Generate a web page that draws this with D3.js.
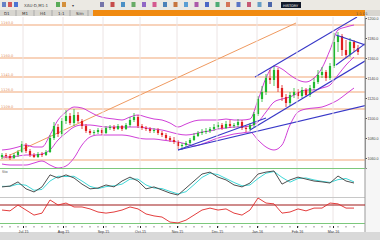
<!DOCTYPE html>
<html><head><meta charset="utf-8">
<script src="https://cdn.jsdelivr.net/npm/d3@7/dist/d3.min.js"></script>
<style>body{margin:0;background:#fff}svg{display:block;font-family:"DejaVu Sans",sans-serif}</style>
</head><body><svg id="c" width="380" height="240"></svg>
<script>
// ---- data ----
const openP  = [1061,1063,1062,1060,1063,1066,1073,1067,1063,1061,1064,1063,1066,1080,1091,1084,1097,1102,1095,1103,1097,1092,1087,1085,1086,1088,1085,1090,1091,1089,1092,1089,1093,1098,1101,1092,1090,1089,1087,1088,1085,1083,1080,1078,1076,1072,1073,1075,1078,1082,1085,1086,1087,1089,1091,1093,1090,1094,1092,1093,1096,1090,1089,1093,1104,1119,1126,1140,1138,1148,1130,1121,1115,1123,1126,1122,1128,1123,1130,1136,1143,1146,1140,1152,1176,1182,1168,1163,1176,1170];
const closeP = [1063,1062,1060,1063,1066,1074,1067,1063,1061,1064,1063,1066,1080,1092,1084,1097,1102,1095,1103,1097,1092,1087,1085,1086,1088,1085,1090,1091,1089,1092,1089,1093,1098,1101,1092,1090,1089,1087,1088,1085,1083,1080,1078,1076,1072,1073,1075,1078,1082,1085,1086,1087,1089,1091,1093,1090,1094,1092,1093,1096,1090,1089,1093,1104,1119,1126,1140,1138,1148,1130,1121,1115,1123,1126,1122,1128,1123,1130,1136,1143,1146,1140,1152,1176,1182,1168,1163,1176,1170,1166];
const highP  = [1065,1065,1064,1065,1068,1077,1075,1069,1065,1066,1066,1068,1083,1096,1094,1100,1108,1105,1109,1106,1099,1094,1089,1088,1090,1090,1092,1093,1093,1094,1093,1095,1101,1105,1103,1094,1092,1091,1090,1090,1087,1085,1082,1081,1078,1075,1077,1080,1085,1087,1089,1090,1091,1094,1096,1095,1097,1098,1095,1099,1098,1092,1095,1106,1122,1132,1144,1148,1152,1150,1133,1124,1126,1130,1129,1131,1130,1133,1140,1148,1151,1148,1155,1185,1186,1184,1178,1180,1178,1173];
const lowP   = [1059,1060,1058,1059,1061,1065,1065,1061,1060,1060,1061,1062,1065,1078,1081,1082,1094,1093,1092,1095,1089,1085,1083,1083,1084,1083,1084,1088,1087,1088,1087,1088,1091,1096,1090,1088,1087,1085,1085,1083,1081,1078,1076,1074,1069,1068,1071,1073,1077,1081,1083,1084,1085,1087,1089,1088,1089,1090,1090,1091,1088,1086,1087,1091,1102,1116,1123,1134,1132,1126,1117,1111,1112,1120,1119,1120,1121,1121,1128,1134,1140,1137,1138,1150,1166,1162,1160,1161,1166,1163];
// Bollinger bands, sampled every second bar
const bandIdx = [0,2,4,6,8,10,12,14,16,18,20,22,24,26,28,30,32,34,36,38,40,42,44,46,48,50,52,54,56,58,60,62,64,66,68,70,72,74,76,78,80,82,84,86,88];
const bbUpper = [1068,1069,1071,1073,1071,1071,1083,1098,1106,1111,1110,1106,1102,1100,1099,1098,1101,1103,1101,1099,1098,1095,1091,1094,1097,1098,1098,1098,1099,1098,1098,1099,1118,1140,1152,1149,1143,1138,1136,1140,1150,1168,1188,1191,1193];
const bbMid   = [1061,1061,1062,1063,1063,1064,1068,1078,1085,1091,1093,1093,1092,1091,1091,1091,1091,1091,1090,1089,1088,1086,1084,1083,1084,1086,1087,1089,1090,1091,1091,1092,1096,1106,1116,1119,1121,1125,1128,1128,1130,1133,1143,1153,1161];
const bbLower = [1054,1053,1053,1053,1055,1057,1053,1050,1052,1060,1073,1081,1083,1083,1083,1083,1082,1080,1079,1079,1078,1077,1076,1074,1072,1074,1077,1080,1082,1084,1085,1086,1078,1071,1068,1073,1093,1106,1109,1110,1111,1114,1118,1124,1130];
// oscillators
const stoK   = [36,39,54,29,18,36,79,68,79,68,46,29,32,43,36,57,71,57,29,36,25,14,7,32,57,82,89,71,61,43,36,50,82,89,93,46,61,71,64,57,54,50,75,57,50];
const stoD   = [38,38,46,42,24,27,57,74,73,74,57,38,30,37,40,46,64,64,43,32,30,20,11,19,44,70,85,80,66,52,40,43,66,85,91,70,53,66,68,61,56,52,62,66,54];
const rsi    = [57,54,75,57,39,46,93,75,82,68,68,61,50,46,50,57,68,61,43,36,32,14,11,21,39,57,64,57,61,46,39,57,100,82,79,46,50,61,54,64,64,82,79,64,64];
const rsiLevel = 75;
// support / resistance levels and trend lines [i0, p0, i1, p1]
const hLevels = [1193,1160,1141,1126,1109,1058];
const orangeTrend = [[2,1063,73.5,1195]];
const blueTrend = [
  [63.25,1141,88.75,1201],
  [62,1088,94.5,1166],
  [44,1068,94.5,1116],
  [44,1068,66,1100],
  [83.5,1183,94.5,1168],
  [83.5,1153,94.5,1185]
];
const priceTicks = [1060,1080,1100,1120,1140,1160,1180,1200];
const dateTickIdx = [5.25,15.25,25.25,34.5,43.75,53.75,63.75,73.75,82.75];
const dateLabels = ["Jul-15","Aug-15","Sep-15","Oct-15","Nov-15","Dec-15","Jan-16","Feb-16","Mar-16"];

// ---- drawing ----
const svg = d3.select("#c");
const W = 380, PR = 365;
const x = d3.scaleLinear().domain([-0.5, 89.5]).range([0, 360]);
const yP = d3.scaleLinear().domain([1050, 1200]).range([168, 18]);
const yO = d3.scaleLinear().domain([0, 100]).range([197, 169]);
const yR = d3.scaleLinear().domain([0, 100]).range([226, 198]);

// backgrounds
svg.append("rect").attr("width", W).attr("height", 240).attr("fill", "#fff");
svg.append("rect").attr("width", W).attr("height", 10).attr("fill", "#ebe9e3");
svg.append("rect").attr("y", 10).attr("width", W).attr("height", 6).attr("fill", "#d8d6d0");
svg.append("rect").attr("x", 93).attr("y", 10).attr("width", PR - 93).attr("height", 6).attr("fill", "#f08a10");
svg.append("rect").attr("x", PR).attr("y", 16).attr("width", W - PR).attr("height", 216).attr("fill", "#f6f6f6");
svg.append("rect").attr("y", 232).attr("width", W).attr("height", 8).attr("fill", "#d9d9d9");

// toolbar
const iconCols = ["#5070c0","#d04040","#3060d0","#40a040","#d08020","#6060a0","#c03030","#3080c0","#50a050","#8050c0","#d04080","#3070b0","#c06020","#4090d0","#a040a0","#3050c0","#30a060","#d06040","#4060c0","#c04060","#5090c0","#3050a0"];
svg.append("text").attr("x", 24).attr("y", 7).attr("font-size", 4).attr("fill", "#444").text("XAU-D,M1:1");
svg.append("text").attr("x", 72).attr("y", 7).attr("font-size", 4).attr("fill", "#444").text("▾");
iconCols.forEach((c, k) => {
  const xx = k < 3 ? 2 + k * 6 : (k < 5 ? 56 + (k - 3) * 6 : 100 + (k - 5) * 10.5);
  svg.append("rect").attr("x", xx).attr("y", 2).attr("width", 4).attr("height", 5).attr("fill", c).attr("opacity", 0.85);
});
svg.append("rect").attr("x", 281).attr("y", 2).attr("width", 20).attr("height", 6).attr("fill", "#101828");
svg.append("text").attr("x", 283).attr("y", 6.5).attr("font-size", 3.5).attr("fill", "#fff").text("HISTORY");
["D1","M1","H4","1:1","Sim"].forEach((t, k) => {
  svg.append("text").attr("x", 4 + k * 18).attr("y", 15).attr("font-size", 4).attr("fill", "#333").text(t);
  svg.append("line").attr("x1", 16 + k * 18).attr("x2", 16 + k * 18).attr("y1", 10).attr("y2", 16).attr("stroke", "#aaa");
});
svg.append("text").attr("x", 356).attr("y", 15).attr("font-size", 3.5).attr("fill", "#555").text("1:1 D1");

// clip for main panel
svg.append("clipPath").attr("id", "mc").append("rect").attr("x", 0).attr("y", 17).attr("width", PR).attr("height", 151);
const main = svg.append("g").attr("clip-path", "url(#mc)");

// vertical grid
dateTickIdx.forEach(t => {
  svg.append("line").attr("x1", x(t)).attr("x2", x(t)).attr("y1", 17).attr("y2", 224).attr("stroke", "#ece4e4").attr("stroke-width", 1);
});
// horizontal levels
hLevels.forEach(p => {
  main.append("line").attr("x1", 0).attr("x2", PR).attr("y1", yP(p)).attr("y2", yP(p)).attr("stroke", "#f2a878").attr("stroke-width", 1.2);
  main.append("text").attr("x", 1).attr("y", yP(p) - 1).attr("font-size", 3.5).attr("fill", "#e09060").text(p.toFixed(1));
});
orangeTrend.forEach(t => {
  main.append("line").attr("x1", x(t[0])).attr("y1", yP(t[1])).attr("x2", x(t[2])).attr("y2", yP(t[3])).attr("stroke", "#f09a60").attr("stroke-width", 1);
});

// bands
const bandLine = arr => d3.line().x((d, k) => x(bandIdx[k])).y(d => yP(d)).curve(d3.curveMonotoneX)(arr);
[bbUpper, bbMid, bbLower].forEach(a => {
  main.append("path").attr("d", bandLine(a)).attr("fill", "none").attr("stroke", "#d040d8").attr("stroke-width", 1);
});

// candles
const idx = d3.range(openP.length);
const cw = 2.2;
idx.forEach(i => {
  const up = closeP[i] >= openP[i];
  const col = up ? "#20b830" : "#e02020";
  main.append("line").attr("x1", x(i)).attr("x2", x(i)).attr("y1", yP(highP[i])).attr("y2", yP(lowP[i])).attr("stroke", col).attr("stroke-width", 0.8);
  const t = yP(Math.max(openP[i], closeP[i])), b = yP(Math.min(openP[i], closeP[i]));
  main.append("rect").attr("x", x(i) - cw / 2).attr("y", t).attr("width", cw).attr("height", Math.max(0.8, b - t)).attr("fill", col);
});

// blue trend lines
blueTrend.forEach(t => {
  main.append("line").attr("x1", x(t[0])).attr("y1", yP(t[1])).attr("x2", x(t[2])).attr("y2", yP(t[3])).attr("stroke", "#3838c8").attr("stroke-width", 1.1);
});

// right price axis
const ax = svg.append("g").attr("transform", `translate(${PR},0)`).call(d3.axisRight(yP).tickValues(priceTicks).tickSize(2).tickFormat(d3.format(".1f")));
ax.selectAll("text").attr("font-size", 3.6).attr("fill", "#444").attr("x", 2.5);
ax.selectAll("line").attr("stroke", "#555");
ax.select(".domain").attr("stroke", "#888");

// oscillator panels
svg.append("line").attr("x1", 0).attr("x2", PR).attr("y1", 168.5).attr("y2", 168.5).attr("stroke", "#7cc87c");
svg.append("line").attr("x1", 0).attr("x2", PR).attr("y1", 197.5).attr("y2", 197.5).attr("stroke", "#c8c8c8");
svg.append("line").attr("x1", 0).attr("x2", PR).attr("y1", 223.5).attr("y2", 223.5).attr("stroke", "#7cc87c");
svg.append("line").attr("x1", PR).attr("x2", PR).attr("y1", 16).attr("y2", 232).attr("stroke", "#999");
svg.append("text").attr("x", 2).attr("y", 173).attr("font-size", 3.5).attr("fill", "#555").text("Sto");
const oscLine = (arr, ys) => d3.line().x((d, k) => x(bandIdx[k])).y(d => ys(d))(arr);
svg.append("path").attr("d", oscLine(stoD, yO)).attr("fill", "none").attr("stroke", "#40d8d8").attr("stroke-width", 1);
svg.append("path").attr("d", oscLine(stoK, yO)).attr("fill", "none").attr("stroke", "#505050").attr("stroke-width", 1);
svg.append("line").attr("x1", 0).attr("x2", PR).attr("y1", yR(rsiLevel)).attr("y2", yR(rsiLevel)).attr("stroke", "#a01818").attr("stroke-width", 1.2);
svg.append("path").attr("d", oscLine(rsi, yR)).attr("fill", "none").attr("stroke", "#e02828").attr("stroke-width", 0.9);

// date axis
const xa = svg.append("g").attr("transform", "translate(0,226)").call(d3.axisBottom(x).tickValues(dateTickIdx).tickSize(2).tickFormat((d, k) => dateLabels[k]));
xa.selectAll("text").attr("font-size", 3.6).attr("fill", "#333").attr("dy", "0.5em");
xa.selectAll("line").attr("stroke", "#222");
xa.select(".domain").remove();
idx.filter(i => i % 2 === 0).forEach(i => {
  svg.append("line").attr("x1", x(i)).attr("x2", x(i)).attr("y1", 226).attr("y2", 227.5).attr("stroke", "#333").attr("stroke-width", 0.6);
});
</script></body></html>
